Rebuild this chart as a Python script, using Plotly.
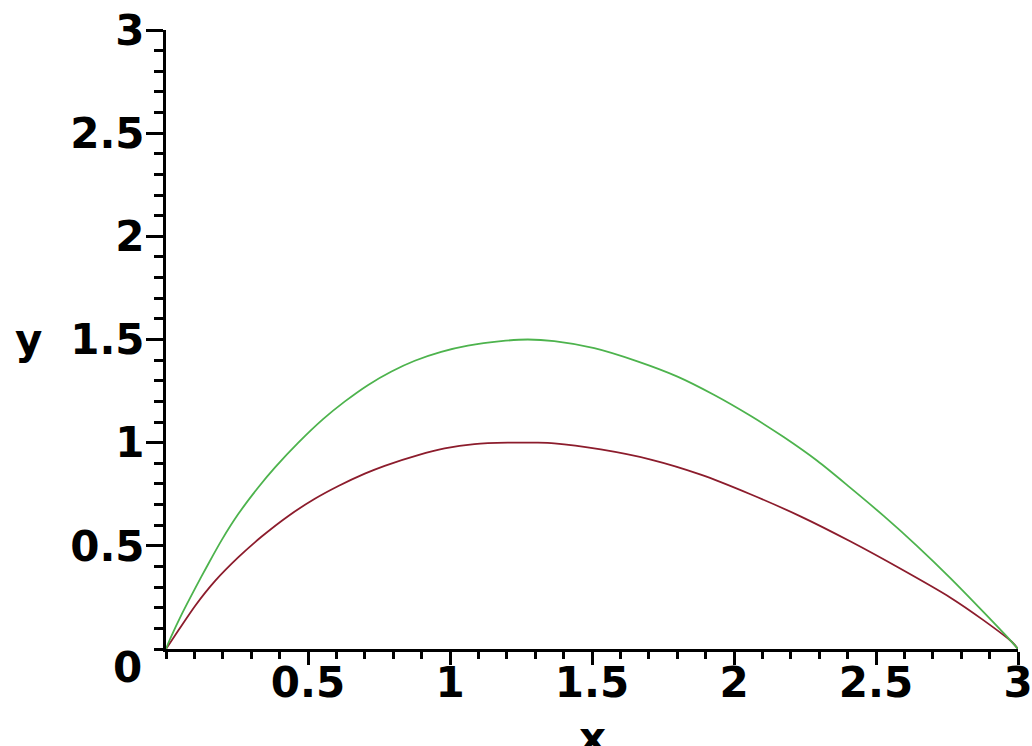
import plotly.graph_objects as go

# Red curve
red_x = [0, 0.045, 0.103, 0.173, 0.255, 0.337, 0.431, 0.524, 0.607, 0.70, 0.77, 0.888, 0.981,
         1.086, 1.204, 1.30, 1.367, 1.531, 1.707, 1.883, 2.058, 2.234, 2.409, 2.585, 2.761,
         2.878, 2.978, 3.0]
red_y = [0, 0.093, 0.21, 0.33, 0.445, 0.545, 0.645, 0.728, 0.79, 0.85, 0.888, 0.94, 0.972,
         0.993, 1.0, 1.0, 0.997, 0.967, 0.918, 0.845, 0.75, 0.643, 0.522, 0.39, 0.25,
         0.14, 0.035, 0]

# Green curve
green_x = [0, 0.015, 0.056, 0.103, 0.144, 0.197, 0.255, 0.326, 0.384, 0.466, 0.554, 0.63,
           0.712, 0.794, 0.876, 0.969, 1.063, 1.18, 1.274, 1.367, 1.508, 1.66, 1.801, 1.929,
           2.058, 2.175, 2.293, 2.409, 2.527, 2.644, 2.761, 2.878, 2.978, 3.0]
green_y = [0, 0.05, 0.17, 0.295, 0.40, 0.53, 0.655, 0.785, 0.88, 1.0, 1.115, 1.2,
           1.28, 1.345, 1.397, 1.44, 1.47, 1.492, 1.5, 1.492, 1.458, 1.394, 1.32, 1.232,
           1.13, 1.027, 0.912, 0.782, 0.645, 0.50, 0.345, 0.18, 0.035, 0]

x_tickvals = [0.5, 1, 1.5, 2, 2.5, 3]
x_ticktext = ["0.5", "1", "1.5", "2", "2.5", "3"]
y_tickvals = [0.5, 1, 1.5, 2, 2.5, 3]
y_ticktext = ["0.5", "1", "1.5", "2", "2.5", "3"]

FONT = "DejaVu Sans"
FS = 42

fig = go.Figure()
fig.add_trace(go.Scatter(x=red_x, y=red_y, mode="lines",
                         line=dict(color="#8c1c2c", width=1.8, shape="spline", smoothing=0.8)))
fig.add_trace(go.Scatter(x=green_x, y=green_y, mode="lines",
                         line=dict(color="#4db34d", width=1.8, shape="spline", smoothing=0.8)))

fig.update_layout(
    width=1032, height=746,
    margin=dict(l=166, r=14, t=30, b=97, autoexpand=False),
    plot_bgcolor="white", paper_bgcolor="white",
    showlegend=False,
    font=dict(family=FONT, size=FS, color="black", weight="bold"),
)

fig.update_xaxes(
    range=[0, 3], showgrid=False, zeroline=False, automargin=False,
    showline=True, linecolor="black", linewidth=3,
    tickmode="array", tickvals=x_tickvals, ticktext=x_ticktext,
    ticks="outside", ticklen=13, tickwidth=3, tickcolor="black",
    minor=dict(dtick=0.1, tick0=0, ticks="outside", ticklen=7, tickwidth=3, tickcolor="black"),
    tickfont=dict(family=FONT, size=FS, color="black", weight="bold"),
    ticklabelstandoff=-18, ticklabeloverflow="allow",
)
fig.update_yaxes(
    range=[0, 3], showgrid=False, zeroline=False, automargin=False,
    showline=True, linecolor="black", linewidth=3,
    tickmode="array", tickvals=y_tickvals, ticktext=y_ticktext,
    ticks="outside", ticklen=17, tickwidth=3, tickcolor="black",
    minor=dict(dtick=0.1, tick0=0, ticks="outside", ticklen=9, tickwidth=3, tickcolor="black"),
    tickfont=dict(family=FONT, size=FS, color="black", weight="bold"),
    ticklabelstandoff=-7, ticklabeloverflow="allow",
)

fig.add_annotation(text="0", x=0, y=0, xref="x", yref="y", showarrow=False,
                   xanchor="right", yanchor="middle", xshift=-22, yshift=-18,
                   font=dict(family=FONT, size=FS, color="black", weight="bold"))
fig.add_annotation(text="y", x=0, y=1.5, xref="x", yref="y", showarrow=False,
                   xanchor="right", yanchor="middle", xshift=-122, yshift=0,
                   font=dict(family=FONT, size=FS, color="black", weight="bold"))
fig.add_annotation(text="x", x=1.5, y=0, xref="x", yref="y", showarrow=False,
                   xanchor="center", yanchor="top", yshift=-62,
                   font=dict(family=FONT, size=FS, color="black", weight="bold"))

fig.write_html("out.html")
